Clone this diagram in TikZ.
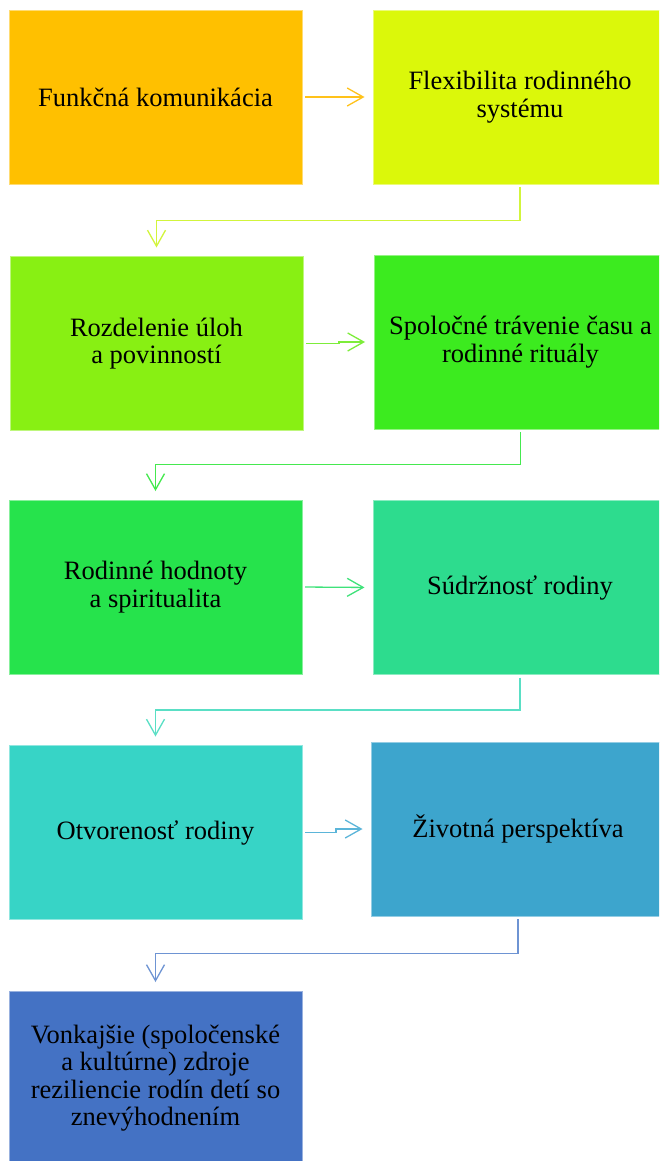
\documentclass[tikz,border=0pt]{standalone}
\usepackage{fontspec}
\setmainfont{Liberation Serif}
\usetikzlibrary{arrows.meta,calc}

% box fills
\definecolor{cA}{HTML}{FFC000}
\definecolor{cB}{HTML}{DBF80A}
\definecolor{cC}{HTML}{88F013}
\definecolor{cD}{HTML}{3CEB1F}
\definecolor{cE}{HTML}{26E34C}
\definecolor{cF}{HTML}{2DDC8E}
\definecolor{cG}{HTML}{37D4C6}
\definecolor{cH}{HTML}{3DA5CD}
\definecolor{cI}{HTML}{4472C4}
% connector colours
\definecolor{kA}{HTML}{FFC21A}
\definecolor{kB}{HTML}{D2F53C}
\definecolor{kC}{HTML}{7DED3A}
\definecolor{kD}{HTML}{45E94F}
\definecolor{kE}{HTML}{3FE27A}
\definecolor{kF}{HTML}{5ADFC5}
\definecolor{kG}{HTML}{5BB5D9}
\definecolor{kH}{HTML}{6E94D3}

\tikzset{
  stagebox/.style={rectangle, fill=#1, draw=#1!55!white, line width=0.7pt,
    minimum width=293pt, minimum height=174pt, inner sep=0pt, outer sep=0pt,
    align=center, font=\fontsize{26.5}{27.5}\selectfont, text=black},
  link/.style={draw=#1, line width=1.3pt,
    -{Straight Barb[length=16pt,width=18pt]},
    shorten <=3pt, shorten >=9pt}
}

\begin{document}
\begin{tikzpicture}[x=1pt,y=-1pt]
\useasboundingbox (0,0) rectangle (659,1161);
\clip (0,0) rectangle (659,1161);
\fill[white] (0,0) rectangle (659,1161);

% stages
\node[stagebox=cA] (s1) at (155.5,97) {Funkčná komunikácia};
\node[stagebox=cB] (s2) at (520,97) {Flexibilita rodinného\\systému};
\node[stagebox=cC] (s3) at (156.5,343.5) {Rozdelenie úloh\\a povinností};
\node[stagebox=cD] (s4) at (520.5,342) {Spoločné trávenie času a\\rodinné rituály};
\node[stagebox=cE] (s5) at (155.5,587) {Rodinné hodnoty\\a spiritualita};
\node[stagebox=cF] (s6) at (520,587.5) {Súdržnosť rodiny};
\node[stagebox=cG] (s7) at (155.5,832.5) {Otvorenosť rodiny};
\node[stagebox=cH] (s8) at (518,829) {Životná perspektíva};
\node[stagebox=cI] (s9) at (155.5,1078) {Vonkajšie (spoločenské\\a kultúrne) zdroje\\reziliencie rodín detí so\\znevýhodnením};

% arrows within a row
\draw[link=kA] (s1.east) -- (s2.west);
\draw[link=kC] (s3.east) -- ++(36,0) |- (s4.west);
\draw[link=kE] (s5.east) -- (s6.west);
\draw[link=kG] (s7.east) -- ++(34,0) |- (s8.west);

% arrows to the next row
\draw[link=kB] (s2.south) |- ($(s2.south)!0.5!(s3.north)$) -| (s3.north);
\draw[link=kD] (s4.south) |- ($(s4.south)!0.5!(s5.north)$) -| (s5.north);
\draw[link=kF] (s6.south) |- ($(s6.south)!0.5!(s7.north)$) -| (s7.north);
\draw[link=kH] (s8.south) |- ($(s8.south)!0.5!(s9.north)$) -| (s9.north);
\end{tikzpicture}
\end{document}
